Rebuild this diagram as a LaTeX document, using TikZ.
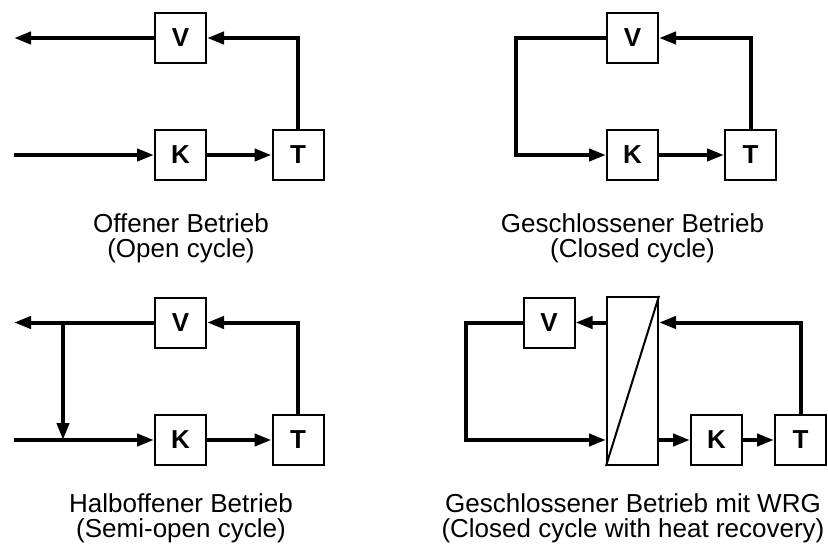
\documentclass[tikz,border=0pt]{standalone}
\usepackage{fontspec}
\setmainfont{Liberation Sans}
\usetikzlibrary{arrows.meta}

\begin{document}
\begin{tikzpicture}[x=1pt, y=-1pt,
    unit/.style={draw, line width=2pt, minimum width=51pt, minimum height=50pt, inner sep=0pt,
      font=\fontsize{26}{26}\selectfont\bfseries},
    flow/.style={line width=4pt, line join=miter, -{Triangle[length=17pt, width=12pt]}},
    legend/.style={anchor=base, inner sep=0pt, font=\fontsize{26}{26}\selectfont}]
  \useasboundingbox (0,0) rectangle (828,551);
  % ---- open cycle (top left) -----------------------------------------------
  \node[unit] (v1) at (180.5, 38) {V};
  \node[unit] (k1) at (180.5, 155) {K};
  \node[unit] (t1) at (298, 155) {T};
  \coordinate (out1) at (14, 38);
  \coordinate (in1) at (14, 155);
  \draw[flow] (v1) -- (out1);
  \draw[flow] (in1) -- (k1);
  \draw[flow] (k1) -- (t1);
  \draw[flow] (t1.north) |- (v1);
  % ---- closed cycle (top right) --------------------------------------------
  \node[unit] (v2) at (632.5, 38) {V};
  \node[unit] (k2) at (632.5, 155) {K};
  \node[unit] (t2) at (750.5, 155) {T};
  \coordinate (l2) at (516, 96);
  \draw[flow] (v2) -| (l2) |- (k2);
  \draw[flow] (k2) -- (t2);
  \draw[flow] (t2.north) |- (v2);
  % ---- semi-open cycle (bottom left) ---------------------------------------
  \node[unit] (v3) at (180.5, 322.5) {V};
  \node[unit] (k3) at (180.5, 440) {K};
  \node[unit] (t3) at (298, 440) {T};
  \coordinate (out3) at (14, 322.5);
  \coordinate (in3) at (14, 440);
  \coordinate (b3) at (63, 322.5);
  \draw[flow] (v3) -- (out3);
  \draw[flow] (in3) -- (k3);
  \draw[flow] (b3) -- (b3 |- k3);
  \draw[flow] (k3) -- (t3);
  \draw[flow] (t3.north) |- (v3);
  % ---- closed cycle with heat recovery (bottom right) ----------------------
  \node[unit] (v4) at (549, 322.5) {V};
  \node[draw, line width=2pt, minimum width=51pt, minimum height=168pt, inner sep=0pt] (hx) at (632.5, 381) {};
  \node[unit] (k4) at (716.5, 440) {K};
  \node[unit] (t4) at (800.5, 440) {T};
  \draw[line width=2pt] (hx.south west) -- (hx.north east);
  \coordinate (l4) at (466, 381);
  \draw[flow] (t4.north) |- (v4 -| hx.east);
  \draw[flow] (v4 -| hx.west) -- (v4);
  \draw[flow] (v4) -| (l4) |- (k4 -| hx.west);
  \draw[flow] (k4 -| hx.east) -- (k4);
  \draw[flow] (k4) -- (t4);
  % ---- captions ------------------------------------------------------------
  \foreach \i/\x/\y/\a/\b in {1/181/232/{Offener Betrieb}/{(Open cycle)},
      2/632.5/232/{Geschlossener Betrieb}/{(Closed cycle)},
      3/181/512/{Halboffener Betrieb}/{(Semi-open cycle)},
      4/633/512/{Geschlossener Betrieb mit WRG}/{(Closed cycle with heat recovery)}} {
    \node[legend] (cap\i) at (\x, \y) {\a};
    \node[legend] (sub\i) at (\x, \y + 25) {\b};}
\end{tikzpicture}
\end{document}
